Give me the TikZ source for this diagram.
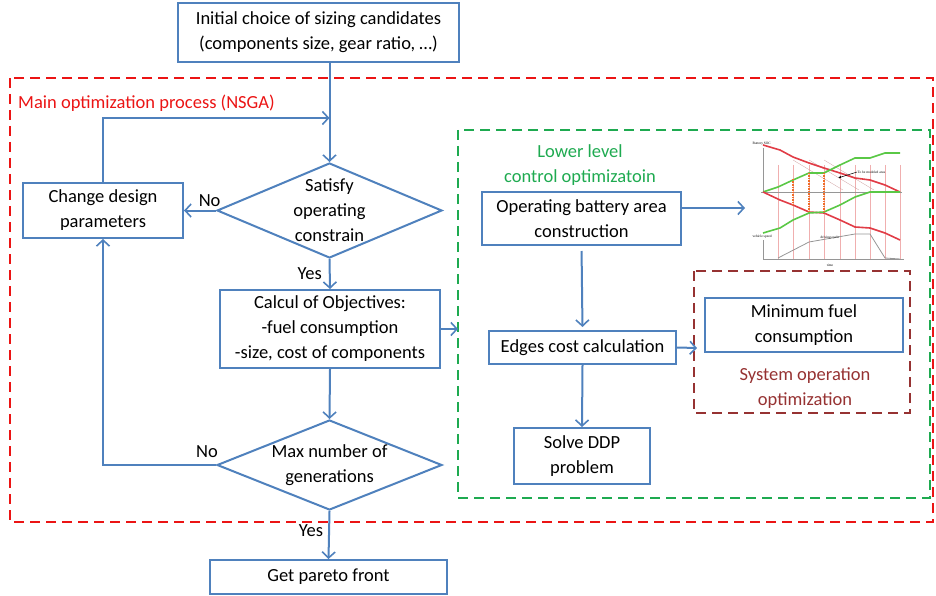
\documentclass[tikz,border=0pt]{standalone}
\usepackage{fontspec}
\setmainfont{Carlito}
\newfontfamily\graphfont{Liberation Serif}
\usetikzlibrary{arrows.meta,shapes.geometric}
\definecolor{flowblue}{RGB}{79,129,189}
\definecolor{nsgared}{RGB}{235,20,20}
\definecolor{lowgreen}{RGB}{30,170,80}
\definecolor{sysbrown}{RGB}{150,50,50}
\definecolor{curvered}{RGB}{225,60,70}
\definecolor{curvegreen}{RGB}{90,200,70}
\definecolor{gridpink}{RGB}{240,175,175}
\definecolor{axisgray}{RGB}{150,150,150}
\definecolor{dashorange}{RGB}{240,110,40}
\tikzset{
  box/.style={draw=flowblue, line width=2pt, fill=white, align=center, inner sep=2pt},
  decision/.style={draw=flowblue, line width=2pt, fill=white, diamond, inner sep=0pt, aspect=2.4},
  arr/.style={draw=flowblue, line width=2pt, -{Straight Barb[length=6pt,width=13pt,line width=1.6pt]}},
  reddash/.style={draw=nsgared, line width=2.6pt, dash pattern=on 10pt off 6pt},
  greendash/.style={draw=lowgreen, line width=2.6pt, dash pattern=on 10pt off 6pt},
  browndash/.style={draw=sysbrown, line width=2.6pt, dash pattern=on 10pt off 6pt},
  lbl/.style={text=black, inner sep=1pt},
  curve/.style={line width=1.6pt},
  gtext/.style={font=\graphfont\fontsize{3.5}{4}\selectfont, inner sep=0.5pt}
}
\begin{document}
\begin{tikzpicture}[x=1pt, y=-1pt, font=\fontsize{18.5}{25}\selectfont]
\useasboundingbox (0,0) rectangle (936,596);

% dashed frames
\draw[reddash] (10,78) rectangle (933,522);
\draw[greendash] (458,130) rectangle (930,498);
\draw[browndash] (694,271) rectangle (910,413);

% frame titles
\node[anchor=west, text=nsgared, inner sep=0pt] (nsgatitle) at (18,103) {Main optimization process (NSGA)};
\node[text=lowgreen, align=center, inner sep=0pt] (lowtitle) at (580,165) {Lower level\\control optimizatoin};
\node[text=sysbrown, align=center, inner sep=0pt] (systitle) at (805,388) {System operation\\optimization};

% main flow nodes
\node[box, minimum width=281pt, minimum height=59pt] (init) at (318.5,32.5) {Initial choice of sizing candidates\\(components size, gear ratio, …)};
\node[box, minimum width=160pt, minimum height=55pt] (change) at (103,210.5) {Change design\\parameters};
\node[decision, minimum width=225pt, minimum height=95pt,
      label={[align=center, font=\fontsize{18.5}{25}\selectfont]center:Satisfy\\operating\\constrain}] (sat) at (329.5,210.5) {};
\node[box, minimum width=220pt, minimum height=78pt] (calc) at (330,329) {Calcul of Objectives:\\-fuel consumption\\-size, cost of components};
\node[decision, minimum width=225pt, minimum height=90pt,
      label={[align=center, font=\fontsize{18.5}{25}\selectfont]center:Max number of\\generations}] (maxg) at (329.5,465) {};
\node[box, minimum width=237pt, minimum height=34pt] (pareto) at (328.5,577) {Get pareto front};

% lower level nodes
\node[box, minimum width=199pt, minimum height=53pt] (opbat) at (581.5,218.5) {Operating battery area\\construction};
\node[box, minimum width=187pt, minimum height=33pt] (edges) at (582.5,347.5) {Edges cost calculation};
\node[box, minimum width=136pt, minimum height=56pt] (ddp) at (582,456) {Solve DDP\\problem};
\node[box, minimum width=198pt, minimum height=54pt] (minfuel) at (804,325) {Minimum fuel\\consumption};

% helper coordinates
\coordinate (loopy) at (0,118);
\coordinate (greenL) at (458,329);
\coordinate (graphin) at (745,208);
\coordinate (brownL) at (697,348);

% connectors main flow
\draw[arr] (sat.north |- init.south) -- (sat.north);
\draw[arr] (change.north) |- (loopy -| sat.north);
\draw[arr] (sat.west) -- (change.east) node[lbl, pos=0.2, above=2pt] (no1) {No};
\draw[arr] (sat.south) -- (calc.north) node[lbl, midway, left=6pt] (yes1) {Yes};
\draw[arr] (calc.east) -- (greenL);
\draw[arr] (calc.south) -- (maxg.north);
\draw[arr] (maxg.west) -| (change.south);
\node[lbl] (no2) at (207,452) {No};
\draw[arr] (maxg.south) -- (pareto.north) node[lbl, pos=0.4, left=4pt] (yes2) {Yes};

% connectors lower level
\draw[arr] (opbat.east |- graphin) -- (graphin);
\draw[arr, shorten <=5pt, shorten >=3pt] (opbat.south) -- (edges.north);
\draw[arr] (edges.east) -- (brownL);
\draw[arr] (edges.south) -- (ddp.north);

% ---- battery SOC graph ----
\begin{scope}
  \foreach \gx in {778,793,809,824,840,855,870,885,900}
    \draw[gridpink, line width=0.5pt] (\gx,165) -- (\gx,259);
  \foreach \gx in {793,809,824}
    \draw[gridpink!70!gray, line width=0.3pt] (\gx,160) -- (\gx+50,190);
  \draw[axisgray, line width=0.7pt] (763,148) -- (763,192);
  \draw[axisgray, line width=0.7pt] (761,192) -- (902,192);
  \draw[axisgray, line width=0.7pt] (763,240) -- (763,259);
  \draw[axisgray, line width=0.7pt] (763,259) -- (904,259);
  \draw[curvered, curve] (763,145) -- (780,150) -- (793,157) -- (809,163) -- (824,168) -- (840,173) -- (855,178) -- (870,180) -- (885,185) -- (900,192);
  \draw[curvegreen, curve] (763,192) -- (778,187) -- (793,180) -- (809,173) -- (824,173) -- (840,165) -- (855,158) -- (870,158) -- (885,153) -- (900,153);
  \draw[curvered, curve] (763,192) -- (780,200) -- (793,205) -- (809,212) -- (824,213) -- (840,220) -- (855,227) -- (870,228) -- (885,233) -- (900,240);
  \draw[curvegreen, curve] (763,233) -- (780,228) -- (793,220) -- (809,213) -- (824,212) -- (840,205) -- (855,197) -- (870,192) -- (885,192) -- (900,192);
  \draw[dashorange, line width=1.1pt, dash pattern=on 1.5pt off 1pt] (793,179) -- (793,205);
  \draw[dashorange, line width=1.1pt, dash pattern=on 1.5pt off 1pt] (809,173) -- (809,213);
  \draw[dashorange, line width=1.1pt, dash pattern=on 1.5pt off 1pt] (824,173) -- (824,213);
  \draw[axisgray, line width=0.8pt] (778,258) -- (809,242) -- (855,234) -- (870,234) -- (885,258) -- (900,259);
  \node[gtext, anchor=south west] (socl) at (752,146) {Battery SOC};
  \node[gtext, anchor=west] (modl) at (857,172) {To be modeled area};
  \draw[black, line width=0.5pt, -{Latex[length=3pt,width=2.5pt]}] (modl.west) -- (838,178);
  \node[gtext, anchor=west] (speedl) at (752,237) {vehicle speed};
  \node[gtext, anchor=west] (cyclel) at (820,238) {driving cycle};
  \node[gtext] (timel) at (830,265) {time};
\end{scope}
\end{tikzpicture}
\end{document}
